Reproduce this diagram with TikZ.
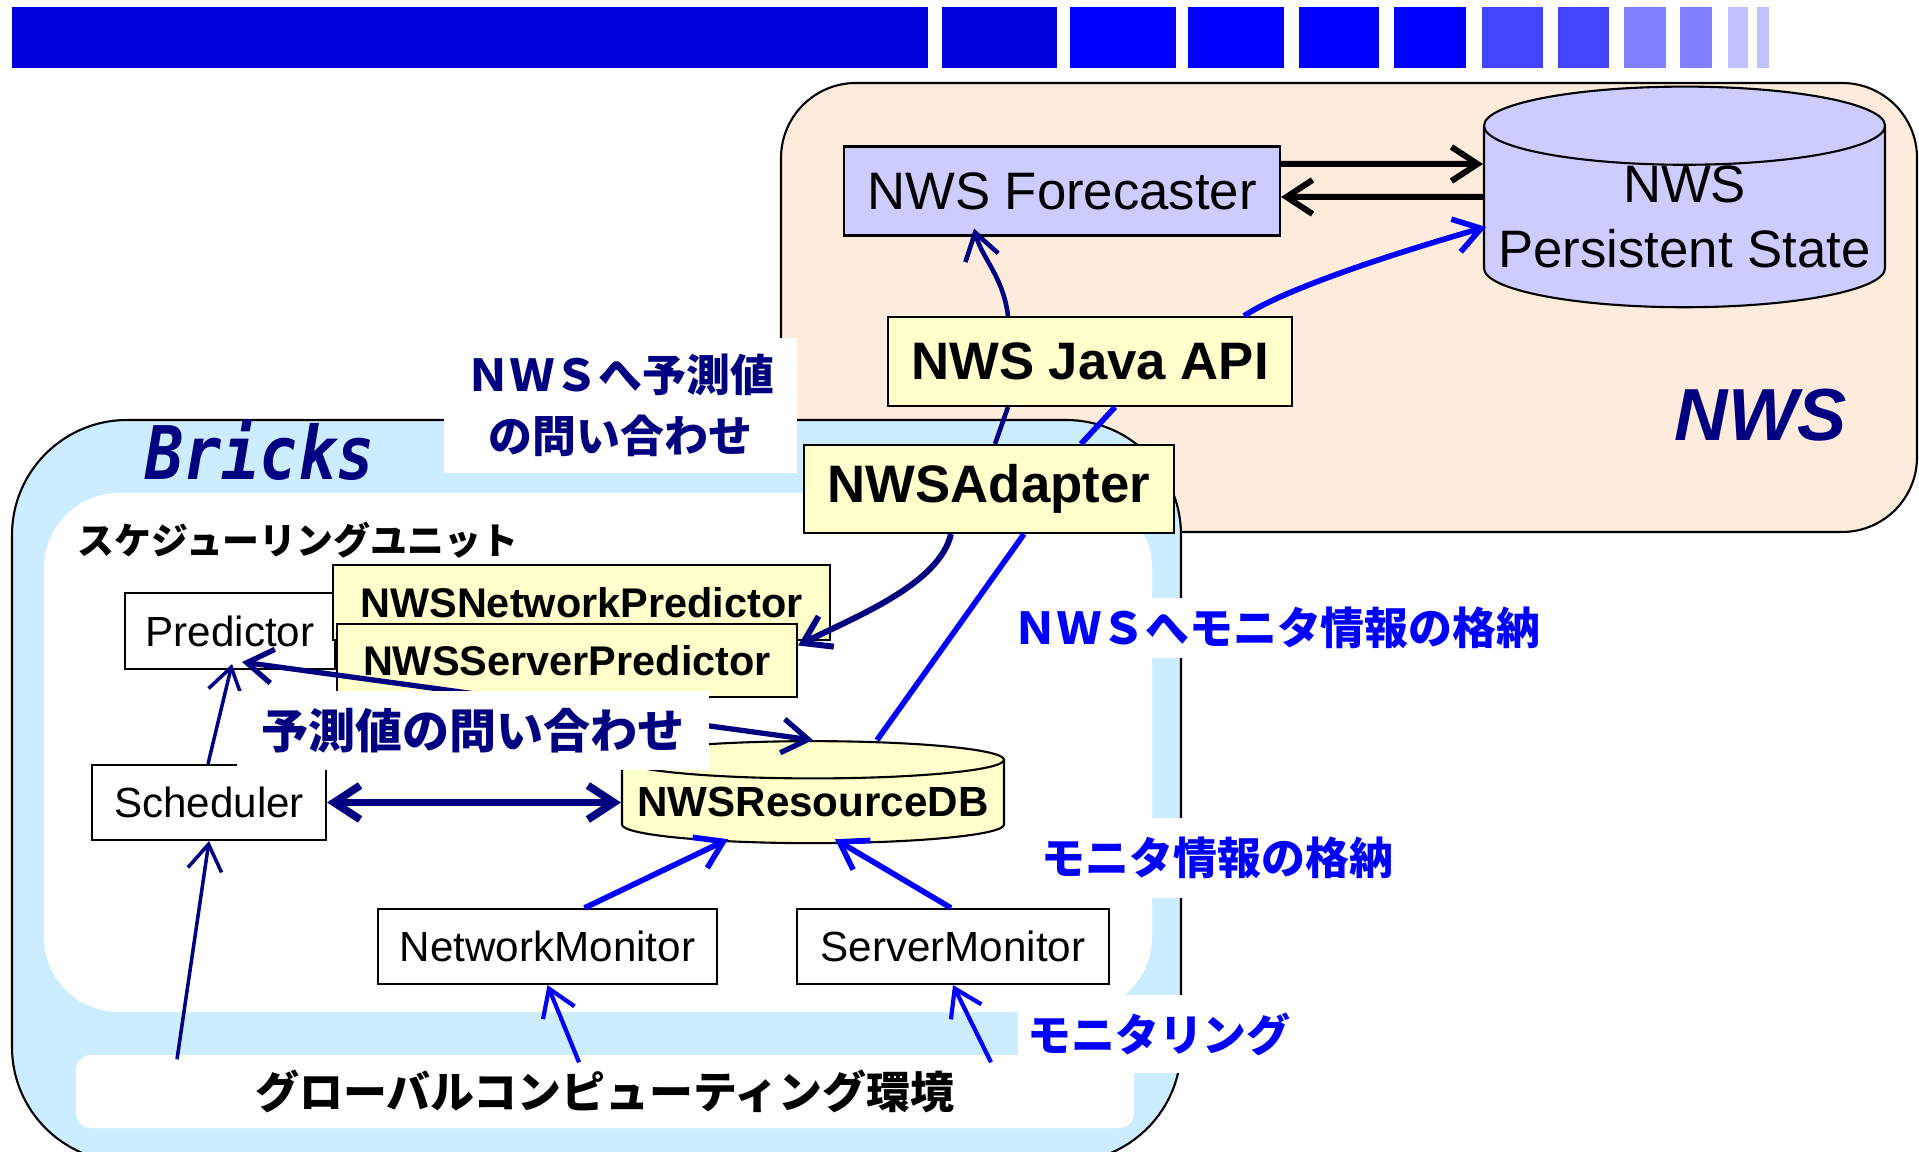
\documentclass[tikz,border=0pt]{standalone}
\usepackage{fontspec}
\setmainfont{Liberation Sans}
\newfontfamily\jpfont{Noto Sans CJK JP}
\newfontfamily\brickfont{DejaVu Sans Mono}[FakeStretch=0.86]
\usetikzlibrary{arrows.meta,positioning,shapes.geometric,calc}
\usepackage{xcolor}

\definecolor{navy}{RGB}{0,0,128}
\definecolor{pureblue}{RGB}{0,0,255}
\definecolor{bardark}{RGB}{0,0,221}
\definecolor{barmid}{RGB}{68,68,255}
\definecolor{barlight}{RGB}{128,128,255}
\definecolor{barpale}{RGB}{192,192,255}
\definecolor{peach}{RGB}{253,235,220}
\definecolor{skyblue}{RGB}{204,236,255}
\definecolor{lavender}{RGB}{204,204,255}
\definecolor{paleyellow}{RGB}{255,255,204}

\tikzset{
  >={Straight Barb[length=2.6mm,width=3.4mm]},
  area/.style={inner sep=0pt},
  plainbox/.style={draw, fill=white, line width=0.6pt, inner sep=0pt, font=\fontsize{12}{14}\selectfont},
  yellowbox/.style={draw, fill=paleyellow, line width=0.6pt, inner sep=0pt, font=\bfseries\fontsize{11.8}{14}\selectfont},
  nwsbox/.style={draw, fill=lavender, line width=0.6pt, inner sep=0pt, font=\fontsize{15}{18.5}\selectfont},
  store/.style={cylinder, shape border rotate=90, draw, line width=0.6pt, inner sep=0pt},
  jplabel/.style={fill=white, inner sep=0pt, align=center, font=\jpfont\bfseries\fontsize{12.5}{16.8}\selectfont},
  navyline/.style={draw=navy, line width=1.3pt},
  blueline/.style={draw=pureblue, line width=1.6pt},
  blackarrow/.style={draw=black, line width=1.7pt, ->},
}

\begin{document}
\begin{tikzpicture}[x=0.1mm, y=-0.1mm]
\useasboundingbox (0,0) rectangle (1919,1152);

% title bar
\fill[bardark] (12,7) rectangle (928,68);
\fill[bardark] (942,7) rectangle (1057,68);
\fill[pureblue] (1070,7) rectangle (1176,68);
\fill[pureblue] (1188,7) rectangle (1284,68);
\fill[pureblue] (1299,7) rectangle (1379,68);
\fill[pureblue] (1394,7) rectangle (1466,68);
\fill[barmid] (1482,7) rectangle (1543,68);
\fill[barmid] (1558,7) rectangle (1609,68);
\fill[barlight] (1624,7) rectangle (1666,68);
\fill[barlight] (1680,7) rectangle (1712,68);
\fill[barpale] (1728,7) rectangle (1748,68);
\fill[barpale] (1757,7) rectangle (1769,68);

% areas
\node[area, draw, line width=0.6pt, fill=peach, rounded corners=7.5mm, minimum width=113.6mm, minimum height=44.9mm] (nwsarea) at (1349,307.5) {};
\node[area, draw, line width=0.6pt, fill=skyblue, rounded corners=11.5mm, minimum width=116.9mm, minimum height=74.2mm] (bricksarea) at (596.5,791) {};
\node[area, fill=white, rounded corners=7.5mm, minimum width=110.8mm, minimum height=51.9mm] (unitarea) at (598,752.5) {};
\node[area, fill=white, rounded corners=1.5mm, minimum width=105.8mm, minimum height=7.3mm, font=\jpfont\bfseries\fontsize{12.5}{15}\selectfont] (env) at (605,1091.5) {グローバルコンピューティング環境};

\node[text=navy, font=\brickfont\bfseries\itshape\fontsize{21}{24}\selectfont] (brickstitle) at (260,450) {Bricks};
\node[text=navy, font=\bfseries\itshape\fontsize{21}{24}\selectfont] (nwstitle) at (1761,415) {NWS};
\node[font=\jpfont\bfseries\fontsize{10.5}{12}\selectfont] (unittitle) at (298,540) {スケジューリングユニット};

% NWS side
\node[nwsbox, minimum width=43.6mm, minimum height=8.9mm] (fc) at (1062,191) {NWS Forecaster};
\node[store, fill=lavender, aspect=0.21, minimum width=40.1mm, minimum height=18.2mm, align=center, font=\fontsize{15}{18.5}\selectfont] (ps) at (1684.5,217) {NWS\\Persistent State};
\node[yellowbox, minimum width=40.4mm, minimum height=8.9mm, font=\bfseries\fontsize{15}{18}\selectfont] (api) at (1090,361.5) {NWS Java API};
\node[yellowbox, minimum width=37mm, minimum height=8.8mm, font=\bfseries\fontsize{15}{18}\selectfont] (adapter) at (989,489) {\raisebox{-0.5mm}{NWSAdapter}};

% Bricks side
\node[plainbox, minimum width=21mm, minimum height=7.6mm] (pred) at (230,631) {Predictor};
\node[yellowbox, minimum width=49.7mm, minimum height=7.5mm] (netpred) at (581.5,602.5) {NWSNetworkPredictor};
\node[yellowbox, minimum width=46mm, minimum height=7.3mm] (srvpred) at (567,660.5) {NWSServerPredictor};
\node[plainbox, minimum width=23.4mm, minimum height=7.5mm] (sched) at (209,802.5) {Scheduler};
\node[store, fill=paleyellow, aspect=0.106, minimum width=38.2mm, minimum height=10.2mm, font=\bfseries\fontsize{12}{14}\selectfont] (db) at (813,802) {NWSResourceDB};
\node[plainbox, minimum width=33.9mm, minimum height=7.5mm] (netmon) at (547.5,946.5) {NetworkMonitor};
\node[plainbox, minimum width=31.2mm, minimum height=7.5mm] (srvmon) at (953,946.5) {ServerMonitor};

% forecaster <-> persistent state
\draw[blackarrow] ($(fc.east)+(0,-27)$) -- ($(ps.west)+(0,-53)$);
\draw[blackarrow] ($(ps.west)+(0,-20)$) -- ($(fc.east)+(0,6)$);

% queries to NWS
\draw[navyline] ($(adapter.north)+(6,0)$) -- ($(api.south)+(-82,0)$);
\draw[navyline, ->] ($(api.north)+(-82,0)$) .. controls +(-5,-40) and +(8,30) .. ($(fc.south)+(-88,-8)$);
\draw[navyline, line width=1.7pt, ->] ($(adapter.south)+(-38,0)$) .. controls +(-12,50) and +(60,-30) .. ($(srvpred.east)+(0,-15)$);

% storing to NWS
\draw[blueline] ($(db.north)+(64,0)$) -- ($(adapter.south)+(35,0)$);
\draw[blueline] ($(adapter.north)+(92,0)$) -- ($(api.south)+(25,0)$);
\draw[blueline, ->] ($(api.north)+(154,0)$) .. controls +(45,-30) and +(-70,20) .. ($(ps.west)+(3,10)$);

% inside Bricks
\draw[navyline, line width=1.5pt, <->] ($(pred.south)+(12,-8)$) -- (db.north);
\draw[navyline, line width=2.2pt, <->] (sched.east) -- (sched.east -| db.west);
\draw[navyline, line width=1pt, ->] ($(sched.north)+(-1,0)$) -- ($(pred.south)+(2,-6)$);
\draw[navyline, line width=1pt, ->] ($(env.north)+(-428,5)$) -- (sched.south);
\draw[blueline, ->] ($(netmon.north)+(37,0)$) -- ($(db.south)+(-85,-5)$);
\draw[blueline, ->] ($(srvmon.north)+(-2,0)$) -- ($(db.south)+(22,-5)$);
\draw[blueline, line width=1.2pt, ->] ($(env.north)+(-26,8)$) -- (netmon.south);
\draw[blueline, line width=1.2pt, ->] ($(env.north)+(386,8)$) -- (srvmon.south);

% labels
\node[jplabel, text=navy, minimum width=35.3mm, minimum height=13.5mm, font=\jpfont\bfseries\fontsize{12.5}{17.5}\selectfont] (asknws) at (620.5,405.5) {ＮＷＳへ予測値\\の問い合わせ};
\node[jplabel, text=navy, minimum width=47.2mm, minimum height=7.9mm, font=\jpfont\bfseries\fontsize{13.4}{15}\selectfont] (askdb) at (473,730.5) {予測値の問い合わせ};
\node[jplabel, text=pureblue, minimum width=54.5mm, minimum height=6mm] (storenws) at (1277,628) {ＮＷＳへモニタ情報の格納};
\node[jplabel, text=pureblue, minimum width=37.5mm, minimum height=8mm] (storedb) at (1217.5,858) {モニタ情報の格納};
\node[jplabel, text=pureblue, minimum width=28.2mm, minimum height=7.8mm] (monitoring) at (1159,1034) {モニタリング};
\end{tikzpicture}
\end{document}
